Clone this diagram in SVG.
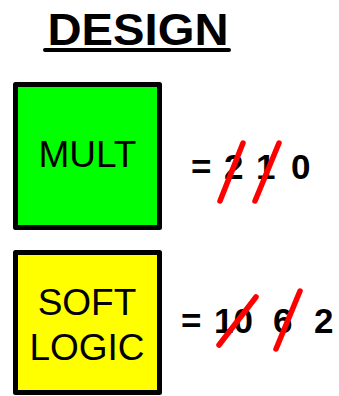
<svg xmlns="http://www.w3.org/2000/svg" width="339" height="396" viewBox="0 0 339 396">
<style>
.box{stroke:#000;stroke-width:5;stroke-linejoin:round}
.lbl{font-family:"Liberation Sans",Arial,sans-serif;font-size:37px;fill:#000;text-anchor:middle}
.num{font-family:"Liberation Sans",Arial,sans-serif;font-size:35px;font-weight:bold;fill:#000}
.strike{stroke:#ff0000;stroke-width:5.5;stroke-linecap:round}
</style>
<rect width="339" height="396" fill="#fff"/>
<g id="title">
<text x="138" y="45" font-family="'Liberation Sans',Arial,sans-serif" font-size="45" font-weight="bold" text-anchor="middle" textLength="181" lengthAdjust="spacingAndGlyphs">DESIGN</text>
<line x1="45" y1="50" x2="229" y2="50" stroke="#000" stroke-width="4" stroke-linecap="round"/>
</g>
<g id="mult">
<rect class="box" x="15.5" y="84.5" width="144" height="143" fill="#00ff00"/>
<text class="lbl" x="87.5" y="167">MULT</text>
</g>
<g id="softlogic">
<rect class="box" x="15.5" y="252.5" width="144" height="140" fill="#ffff00"/>
<text class="lbl" x="87" y="315">SOFT</text>
<text class="lbl" x="87" y="360">LOGIC</text>
</g>
<g id="mult-count">
<text class="num" x="191" y="179">=</text>
<text class="num" x="224" y="179">2</text>
<text class="num" x="256" y="179">1</text>
<text class="num" x="291" y="179">0</text>
</g>
<g id="soft-count">
<text class="num" x="181" y="333">=</text>
<text class="num" x="214" y="333">10</text>
<text class="num" x="273" y="333">6</text>
<text class="num" x="314" y="333">2</text>
</g>
<g id="connectors">
<line class="strike" x1="220" y1="201" x2="243" y2="143"/>
<line class="strike" x1="255" y1="201" x2="279" y2="143"/>
<line class="strike" x1="219" y1="345" x2="256" y2="297"/>
<line class="strike" x1="276" y1="349" x2="300" y2="291"/>
</g>
</svg>
